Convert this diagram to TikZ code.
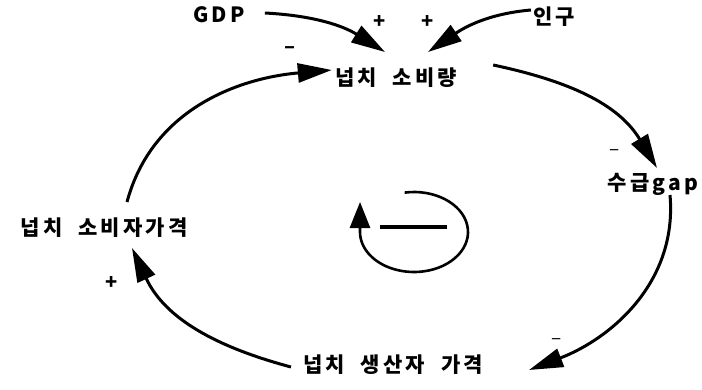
\documentclass[tikz,border=0pt]{standalone}
\usepackage{fontspec}
\usetikzlibrary{arrows.meta}
\newfontfamily\kr{Noto Sans CJK KR}[LetterSpace=15,WordSpace=2]

\begin{document}
\begin{tikzpicture}[x=1pt,y=1pt,
  var/.style={font=\kr\bfseries\fontsize{21}{24}\selectfont, inner sep=0pt},
  sgn/.style={font=\kr\fontsize{19}{22}\selectfont, inner sep=0pt},
  bsgn/.style={sgn, font=\kr\bfseries\fontsize{20}{22}\selectfont},
  link/.style={line width=3pt, -{Triangle[length=34pt,width=19pt]}}]
  \useasboundingbox (0,0) rectangle (702,389);

  % Variables
  \node[var] (gdp)    at (219,374) {GDP};
  \node[var] (popu)   at (554,372) {인구};
  \node[var] (cons)   at (396,311) {넙치 소비량};
  \node[var] (gap)    at (653,205) {수급gap};
  \node[var] (cprice) at (104,161) {넙치 소비자가격};
  \node[var] (pprice) at (393,24)  {넙치 생산자 가격};

  % Enlaces
  \draw[link] ([shift={(20,2)}]gdp.east) to[out=-3,in=148] ([shift={(-11,26)}]cons.center);
  \draw[link] ([shift={(-2,7)}]popu.west) to[out=185,in=34] ([shift={(32,26)}]cons.center);
  \draw[link] ([shift={(36,13)}]cons.east) to[out=-12,in=121] ([shift={(4,16)}]gap.center);
  \draw[link] ([shift={(17,-11)}]gap.center) to[out=-85,in=21] ([shift={(46,-5)}]pprice.east);
  \draw[link] ([shift={(-12,-2)}]pprice.west) to[out=165,in=-65] ([shift={(28,-20)}]cprice.center);
  \draw[link] ([shift={(23,26)}]cprice.center) to[out=75,in=185] ([shift={(-3,8)}]cons.west);

  % Signos
  \node[bsgn] (s1) at (380,367) {+};
  \node[bsgn] (s2) at (428,367) {+};
  \node[bsgn] (s3) at (290,339) {–};
  \node[sgn]  (s4) at (615,236) {–};
  \node[sgn]  (s5) at (557,47)  {–};
  \node[bsgn] (s6) at (112,106) {+};

  % Bucle
  \coordinate (loop) at (414,157);
  \draw[line width=2.6pt, -{Triangle[length=26pt,width=20pt]}]
    (loop) ++(100:54 and 40) arc[start angle=100,end angle=-180,x radius=54,y radius=40] -- ++(0,30);
  \draw[line width=3.8pt] (380,162) -- (447,162);
\end{tikzpicture}
\end{document}
